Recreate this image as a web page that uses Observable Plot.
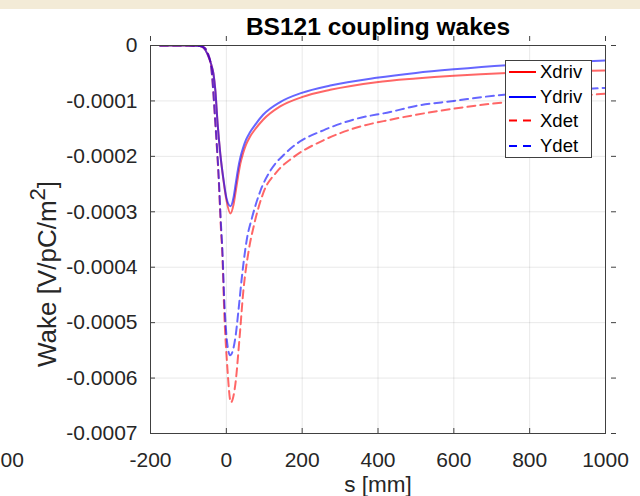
<!DOCTYPE html>
<html>
<head>
<meta charset="utf-8">
<script src="https://cdn.jsdelivr.net/npm/d3@7"></script>
<script src="https://cdn.jsdelivr.net/npm/@observablehq/plot@0.6"></script>
<style>
  html, body { margin: 0; padding: 0; background: #fff; }
  #fig { position: relative; width: 640px; height: 496px; overflow: hidden; font-family: "Liberation Sans", Arial, sans-serif; }
  #fig > svg { position: absolute; left: 0; top: 0; }
  #band { position: absolute; left: 0; top: 0; width: 640px; height: 9px; background: #f3ebd7; }
</style>
</head>
<body>
<div id="fig"><div id="band"></div></div>
<script>
// Coupling wake components of BS121 (s in mm, wake in V/pC/m^2)
const xdrivS = [-175, -100, -70, -60, -50, -40, -34, -29, -23, -16, -7, 0, 11, 19, 25, 31, 37, 44, 52, 62, 75, 97, 142, 199, 274, 396, 500, 600, 740, 870, 1000];
const xdrivW = [0, 0, -0.000001, -0.000004, -0.000015, -0.000034, -0.000051, -0.000081, -0.000141, -0.000195, -0.000246, -0.000278, -0.000303, -0.000287, -0.000262, -0.000236, -0.000213, -0.000195, -0.000179, -0.000165, -0.000152, -0.000134, -0.00011, -0.0000932, -0.00008, -0.0000662, -0.0000595, -0.0000545, -0.0000495, -0.000047, -0.0000451];

const ydrivS = [-175, -100, -70, -60, -50, -40, -34, -29, -23, -16, -7, 0, 11, 19, 25, 31, 37, 44, 52, 62, 75, 97, 142, 199, 274, 396, 500, 600, 740, 870, 1000];
const ydrivW = [0, 0, -0.000001, -0.000004, -0.000015, -0.000034, -0.000051, -0.000081, -0.000141, -0.000195, -0.000244, -0.000274, -0.00029, -0.000274, -0.000248, -0.000222, -0.000202, -0.000185, -0.00017, -0.000157, -0.000144, -0.000125, -0.000102, -0.0000854, -0.0000722, -0.0000583, -0.0000495, -0.000043, -0.0000355, -0.0000305, -0.000027];

const xdetS = [-175, -100, -70, -60, -50, -40, -29, -20, -14, -11, -5, 2, 12, 24, 35, 45, 59, 74, 98, 133, 176, 256, 344, 432, 500, 600, 700, 850, 1000];
const xdetW = [0, 0, -0.000001, -0.000003, -0.000012, -0.000039, -0.000141, -0.000244, -0.000334, -0.00037, -0.00049, -0.000574, -0.000644, -0.00061, -0.000526, -0.000442, -0.00037, -0.000321, -0.000265, -0.000228, -0.000202, -0.000171, -0.000148, -0.000134, -0.000125, -0.000114, -0.000105, -0.000095, -0.000087];

const ydetS = [-175, -100, -70, -60, -50, -40, -29, -20, -14, -11, -5, 2, 10, 24, 32, 41, 54, 68, 90, 116, 155, 186, 256, 344, 432, 500, 600, 713, 850, 1000];
const ydetW = [0, 0, -0.000001, -0.000003, -0.000012, -0.000038, -0.000138, -0.000238, -0.000325, -0.00036, -0.000465, -0.000535, -0.000559, -0.000526, -0.000478, -0.000418, -0.00035, -0.00031, -0.000262, -0.000226, -0.000195, -0.000177, -0.000153, -0.000132, -0.00012, -0.000109, -0.0001, -0.00009, -0.000083, -0.0000764];

const seriesNames = ["Xdriv", "Ydriv", "Xdet", "Ydet"];
const xTicks = [-200, 0, 200, 400, 600, 800, 1000];
const yTicks = [0, -0.0001, -0.0002, -0.0003, -0.0004, -0.0005, -0.0006, -0.0007];

const styles = {
  Xdriv: {color: "#ff0000", dash: null},
  Ydriv: {color: "#0000ff", dash: null},
  Xdet: {color: "#ff0000", dash: "8,5"},
  Ydet: {color: "#0000ff", dash: "8,5"}
};

const zip = (s, w) => s.map((d, i) => ({s: d, w: w[i]}));
const series = {
  Xdriv: zip(xdrivS, xdrivW),
  Ydriv: zip(ydrivS, ydrivW),
  Xdet: zip(xdetS, xdetW),
  Ydet: zip(ydetS, ydetW)
};

const fmtX = d => String(d);
const fmtY = d => (d === 0 ? "0" : d.toFixed(4));
const ink = "#262626";

const lines = seriesNames.map(name => Plot.line(series[name], {
  x: "s", y: "w",
  stroke: styles[name].color,
  strokeOpacity: 0.6,
  strokeWidth: 2,
  strokeDasharray: styles[name].dash,
  curve: "monotone-x",
  clip: true
}));

const chart = Plot.plot({
  width: 640,
  height: 496,
  marginLeft: 150,
  marginRight: 35,
  marginTop: 45,
  marginBottom: 63,
  style: {fontFamily: "Liberation Sans, Arial, sans-serif", fontSize: "21px", color: ink, background: "transparent", overflow: "visible"},
  x: {domain: [-200, 1000]},
  y: {domain: [-0.0007, 0]},
  marks: [
    Plot.gridX(xTicks, {stroke: "#000", strokeOpacity: 0.09}),
    Plot.gridY(yTicks, {stroke: "#000", strokeOpacity: 0.09}),
    ...lines,
    Plot.frame({stroke: "#404040"}),
    // inward tick marks on all four sides
    Plot.axisX(xTicks, {anchor: "bottom", tickSize: 5, dy: -5, tickFormat: () => "", label: null, stroke: "#404040"}),
    Plot.axisX(xTicks, {anchor: "top", tickSize: 5, dy: -5, tickFormat: () => "", label: null, stroke: "#404040"}),
    Plot.axisY(yTicks, {anchor: "left", tickSize: 5, dx: 5, tickFormat: () => "", label: null, stroke: "#404040"}),
    Plot.axisY(yTicks, {anchor: "right", tickSize: 5, dx: 5, tickFormat: () => "", label: null, stroke: "#404040"}),
    // tick labels
    Plot.axisX(xTicks, {anchor: "bottom", tickSize: 0, tickPadding: 19, tickFormat: fmtX, label: null, fill: ink, fontSize: 21}),
    Plot.axisY(yTicks, {anchor: "left", tickSize: 0, tickPadding: 13, tickFormat: fmtY, label: null, fill: ink, fontSize: 21}),
    // title and x label
    Plot.text(["BS121 coupling wakes"], {frameAnchor: "top", dy: -18, lineAnchor: "middle", fontWeight: "bold", fontSize: 24.5, fill: "#000"}),
    Plot.text(["s [mm]"], {frameAnchor: "bottom", dy: 51, lineAnchor: "middle", fontSize: 22.5, fill: ink}),
    // tick label of the neighbouring axes at the left edge
    Plot.text(["00"], {frameAnchor: "bottom-left", dx: -150, dy: 27, textAnchor: "start", lineAnchor: "middle", fontSize: 21, fill: ink})
  ]
});

const fig = document.getElementById("fig");
fig.insertBefore(chart, fig.firstChild);

// y label with superscript exponent
const svg = d3.select(chart);
const ylab = svg.append("text")
  .attr("transform", "translate(56,274) rotate(-90)")
  .attr("text-anchor", "middle")
  .attr("fill", ink)
  .attr("font-size", 26)
  .attr("font-family", "Liberation Sans, Arial, sans-serif");
ylab.append("tspan").text("Wake [V/pC/m");
ylab.append("tspan").attr("dy", "-0.5em").attr("font-size", "0.85em").text("2");
ylab.append("tspan").attr("dy", "0.42em").text("]");

// legend
const rowY = [12, 37, 60.5, 86];
const leg = d3.select(fig).append("svg")
  .attr("width", 88).attr("height", 99)
  .style("position", "absolute").style("left", "505px").style("top", "60px");
leg.append("rect").attr("x", 0.5).attr("y", 0.5).attr("width", 86).attr("height", 97)
  .attr("fill", "#fff").attr("stroke", "#404040").attr("stroke-width", 1);
seriesNames.forEach((name, i) => {
  const g = leg.append("g").attr("transform", `translate(0,${rowY[i]})`);
  g.append("line").attr("x1", 4).attr("x2", 31).attr("y1", 0).attr("y2", 0)
    .attr("stroke", styles[name].color).attr("stroke-width", 2)
    .attr("stroke-dasharray", styles[name].dash ? "8,6" : null);
  g.append("text").attr("x", 35).attr("y", 0).attr("dy", "0.35em")
    .attr("font-size", 18.5).attr("fill", "#000")
    .attr("font-family", "Liberation Sans, Arial, sans-serif")
    .text(name);
});
</script>
</body>
</html>
